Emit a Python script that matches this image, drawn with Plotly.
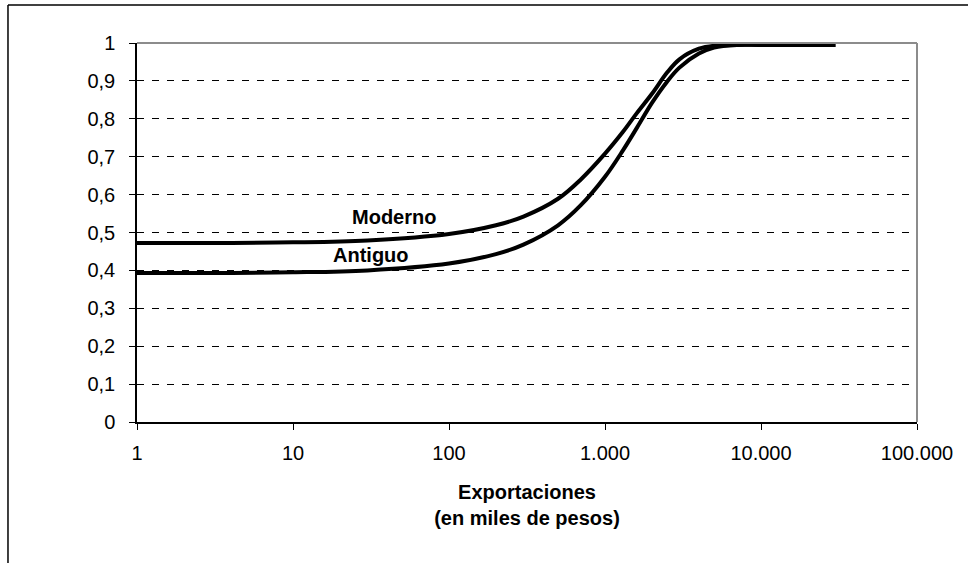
import plotly.graph_objects as go

# Data (exports in thousands of pesos)
export_x = [1, 10, 30, 100, 200, 300, 500, 700, 1000, 1300, 1600, 2000, 2500, 3000, 4000, 5000, 7000, 10000, 30000]
moderno_y = [0.472, 0.474, 0.479, 0.496, 0.519, 0.542, 0.589, 0.640, 0.708, 0.765, 0.815, 0.866, 0.922, 0.957, 0.985, 0.993, 0.995, 0.995, 0.995]
antiguo_y = [0.393, 0.395, 0.400, 0.418, 0.443, 0.468, 0.519, 0.572, 0.647, 0.716, 0.776, 0.842, 0.898, 0.935, 0.972, 0.988, 0.995, 0.995, 0.995]

x_tickvals = [1, 10, 100, 1000, 10000, 100000]
x_ticktext = ["1", "10", "100", "1.000", "10.000", "100.000"]
y_tickvals = [0, 0.1, 0.2, 0.3, 0.4, 0.5, 0.6, 0.7, 0.8, 0.9, 1]
y_ticktext = ["0", "0,1", "0,2", "0,3", "0,4", "0,5", "0,6", "0,7", "0,8", "0,9", "1"]

FONT = "Liberation Sans, Arial, sans-serif"
FS = 20

fig = go.Figure()
fig.add_trace(go.Scatter(x=export_x, y=moderno_y, mode="lines", name="Moderno",
                         line=dict(color="black", width=4, shape="spline", smoothing=1)))
fig.add_trace(go.Scatter(x=export_x, y=antiguo_y, mode="lines", name="Antiguo",
                         line=dict(color="black", width=4, shape="spline", smoothing=1)))

fig.update_layout(
    width=968, height=563,
    margin=dict(l=137, r=51, t=43, b=141),
    paper_bgcolor="white", plot_bgcolor="white",
    showlegend=False,
    font=dict(family=FONT, size=FS, color="black"),
    separators=",.",
)

fig.update_xaxes(
    type="log", range=[0, 5],
    tickvals=x_tickvals, ticktext=x_ticktext,
    showgrid=False, zeroline=False,
    showline=True, linecolor="black", linewidth=1.5,
    ticks="outside", ticklen=6, tickcolor="black", tickwidth=1,
    ticklabelstandoff=6,
    tickfont=dict(size=FS),
    title=dict(text="<b>Exportaciones<br>(en miles de pesos)</b>", font=dict(size=FS), standoff=22),
)
fig.update_yaxes(
    range=[0, 1],
    tickvals=y_tickvals, ticktext=y_ticktext,
    showgrid=True, gridcolor="black", gridwidth=1, griddash="7px,8px",
    zeroline=False,
    showline=True, linecolor="black", linewidth=1.5,
    ticks="outside", ticklen=6, tickcolor="black", tickwidth=1,
    ticklabelstandoff=10,
    tickfont=dict(size=FS),
)

# gray frame on top and right of plot area
fig.add_shape(type="line", xref="paper", yref="paper", x0=0, x1=1, y0=1, y1=1,
              line=dict(color="#8c8c8c", width=2))
fig.add_shape(type="line", xref="paper", yref="paper", x0=1, x1=1, y0=0, y1=1,
              line=dict(color="#8c8c8c", width=2))
# outer chart border (left and top visible)
fig.add_shape(type="line", xref="paper", yref="paper", x0=-0.1654, x1=-0.1654, y0=1.1003, y1=-0.6,
              line=dict(color="black", width=1.5))
fig.add_shape(type="line", xref="paper", yref="paper", x0=-0.1654, x1=1.2, y0=1.1003, y1=1.1003,
              line=dict(color="black", width=1.5))

fig.add_annotation(x=1.647, y=0.542, xref="x", yref="y", text="<b>Moderno</b>",
                   showarrow=False, font=dict(size=FS))
fig.add_annotation(x=1.50, y=0.44, xref="x", yref="y", text="<b>Antiguo</b>",
                   showarrow=False, font=dict(size=FS))

fig.write_html("out.html", config={"displayModeBar": False},
               post_script="document.body.style.margin='0px';")
